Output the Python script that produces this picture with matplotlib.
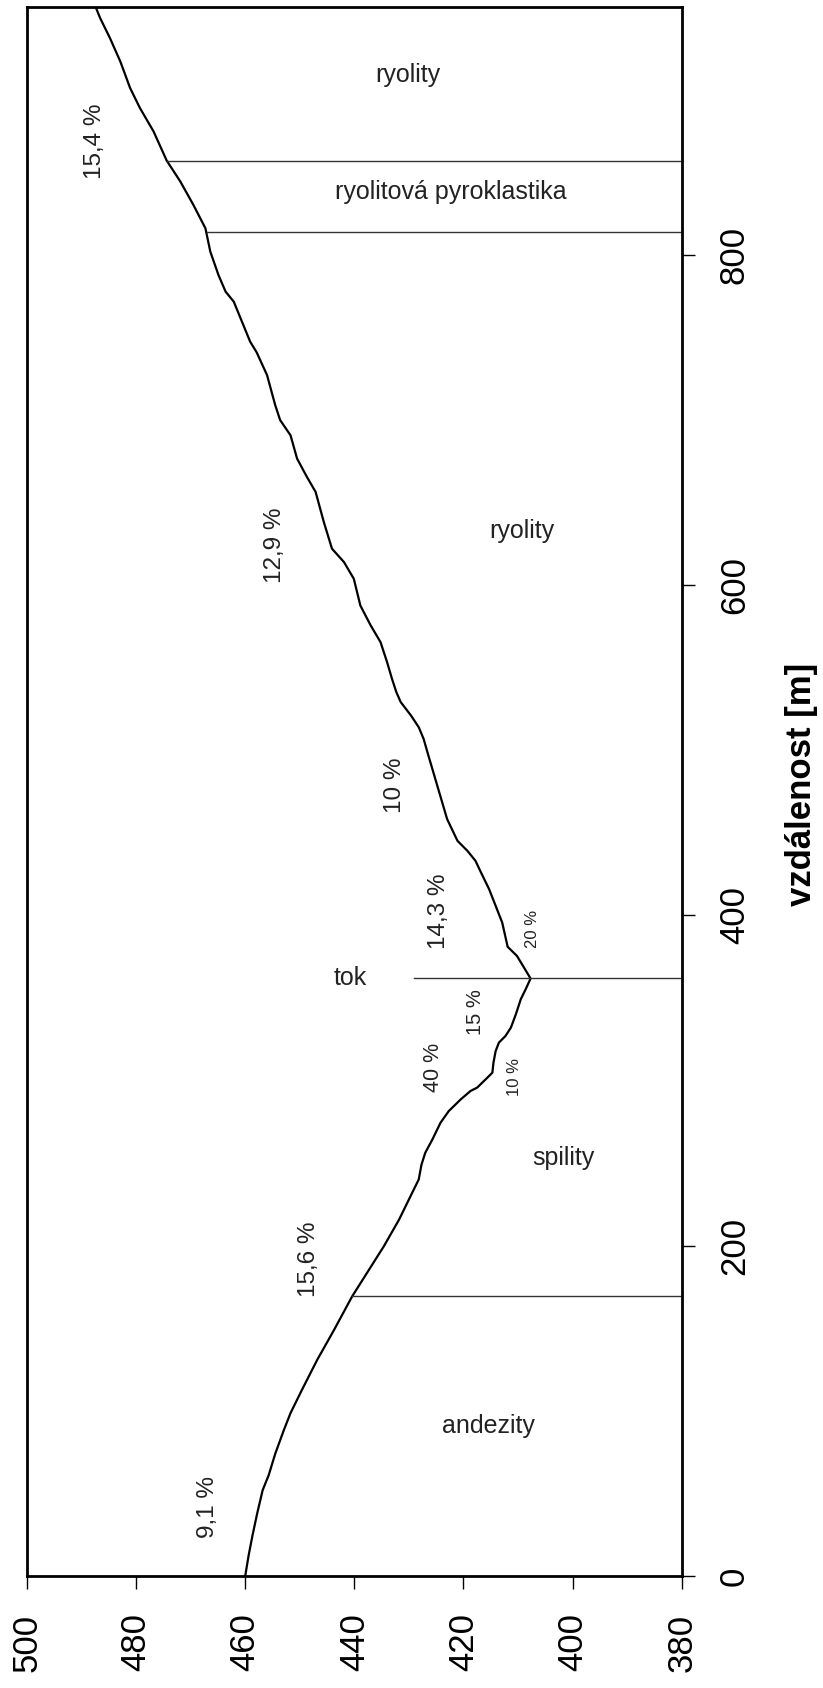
import matplotlib
matplotlib.use('Agg')
import matplotlib.pyplot as plt

# Arial-like font, DejaVu as fallback for anything missing
plt.rcParams['font.family'] = ['Liberation Sans', 'DejaVu Sans']

# ####################
# DATA
# ####################

# terrain profile: distance along the section [m] and elevation [m]
distance = [0, 12, 24, 38, 52, 61, 74, 88.5, 98.6, 112.7, 130.9, 149.1, 169.3,
            185.5, 199.6, 215.8, 230.0, 240.1, 249, 256.3, 264.3, 274.5, 281.5,
            288.6, 293.7, 295.7, 301.8, 304.8, 310.9, 317.9, 323.0, 327.0, 332.1,
            340.1, 349.2, 355.3, 361.8, 368.4, 375.5, 381.0, 395.7, 405.8, 415.9,
            426.1, 433.1, 439.2, 445.2, 458.4, 468.5, 478.6, 488.7, 498.8, 506.9,
            514.0, 521.0, 529.2, 535.2, 543.3, 553.4, 565.5, 575.6, 587.7, 603.9,
            614.0, 622.1, 638.3, 656.5, 665.6, 676.7, 690.8, 700.0, 709.0, 727.2,
            741.0, 747.5, 759.6, 771.7, 777.8, 787.8, 802.0, 816.2, 830.3, 844.5,
            857.2, 874.8, 889.0, 901.1, 917.2, 931.4, 943.5, 950]
elevation = [460.0, 459.4, 458.7, 457.8, 456.8, 455.7, 454.5, 452.9, 451.7, 449.6,
             446.8, 443.7, 440.4, 437.3, 434.6, 431.8, 429.7, 428.2, 427.7, 427.0,
             425.7, 424.2, 422.7, 420.5, 418.7, 417.5, 415.6, 414.7, 414.5, 414.1,
             413.5, 412.3, 411.3, 410.4, 409.5, 408.6, 407.7, 408.9, 410.2, 411.9,
             412.9, 414.1, 415.3, 416.8, 417.8, 419.3, 421.1, 423.0, 423.9, 424.8,
             425.7, 426.6, 427.3, 428.2, 429.6, 431.5, 432.3, 433.1, 434.0, 435.2,
             437.0, 438.9, 440.1, 441.9, 444.1, 445.6, 447.1, 448.7, 450.5, 451.7,
             453.6, 454.5, 456.0, 457.9, 459.1, 460.6, 462.1, 463.6, 464.9, 466.4,
             467.3, 469.5, 471.9, 474.4, 476.8, 479.3, 481.1, 482.9, 484.8, 486.6,
             487.4]

# geological boundaries: distance of the line and elevation where it starts
boundary_distance = [169.3, 362, 814.2, 857.2]
boundary_start = [440.4, 429.0, 467.0, 474.4]

# rock names written into the section
rock_names = ['andezity', 'spility', 'tok', 'ryolity', 'ryolitová pyroklastika', 'ryolity']
rock_distance = [91, 253, 362, 633, 838, 909]
rock_elevation = [415.5, 401.7, 440.8, 409.3, 422.4, 430.2]

# slope percentages along the profile
slope_names = ['9,1 %', '15,6 %', '40 %', '10 %', '15 %', '20 %', '14,3 %', '10 %', '12,9 %', '15,4 %']
slope_distance = [42, 191.6, 307.8, 302.4, 341.2, 391.7, 402.8, 478.6, 624, 868.7]
slope_elevation = [466.9, 448.4, 425.5, 410.6, 417.8, 407.4, 424.4, 432.6, 454.5, 487.5]

distance_ticks = [0, 200, 400, 600, 800]
elevation_ticks = [500, 480, 460, 440, 420, 400, 380]

# ####################
# PLOT
# ####################

fig = plt.figure(figsize=(8.23, 16.88), dpi=100)
# the whole chart is turned by 90 degrees: elevation runs horizontally, distance upwards
ax = fig.add_axes([27 / 823, 112.1 / 1688, 654.7 / 823, 1568.6 / 1688])

ax.plot(elevation, distance, color='black', linewidth=1.6, solid_joinstyle='round')

# boundary lines go from their start to the right edge of the chart
for d, start in zip(boundary_distance, boundary_start):
    ax.plot([start, 380], [d, d], color='#333333', linewidth=1.0)

for name, d, e in zip(rock_names, rock_distance, rock_elevation):
    ax.text(e, d, name, fontsize=18, ha='center', va='center', color='#222222')

# the small ones near the stream are written smaller
small_sizes = {2: 15.5, 3: 12, 4: 14.5, 5: 12}
for i, (name, d, e) in enumerate(zip(slope_names, slope_distance, slope_elevation)):
    ax.text(e, d, name, fontsize=small_sizes.get(i, 17.5), rotation=90,
            ha='center', va='center', color='#222222')

ax.set_xlim(500, 380)
ax.set_ylim(0, 950)

ax.set_xticks(elevation_ticks)
ax.set_xticklabels([str(t) for t in elevation_ticks], rotation=90)
ax.set_yticks(distance_ticks)
ax.set_yticklabels([str(t) for t in distance_ticks], rotation=90, va='center')

ax.yaxis.tick_right()
ax.tick_params(axis='x', direction='out', length=9, width=1, pad=18, labelsize=25)
ax.tick_params(axis='y', direction='out', length=9, width=1, pad=17, labelsize=25)

for spine in ax.spines.values():
    spine.set_linewidth(2.0)

ax.text(1.1837, 0.5048, 'vzdálenost [m]', transform=ax.transAxes, rotation=90,
        ha='center', va='center', fontsize=25, fontweight='bold')

plt.savefig('out.png', dpi=100)
plt.close()
